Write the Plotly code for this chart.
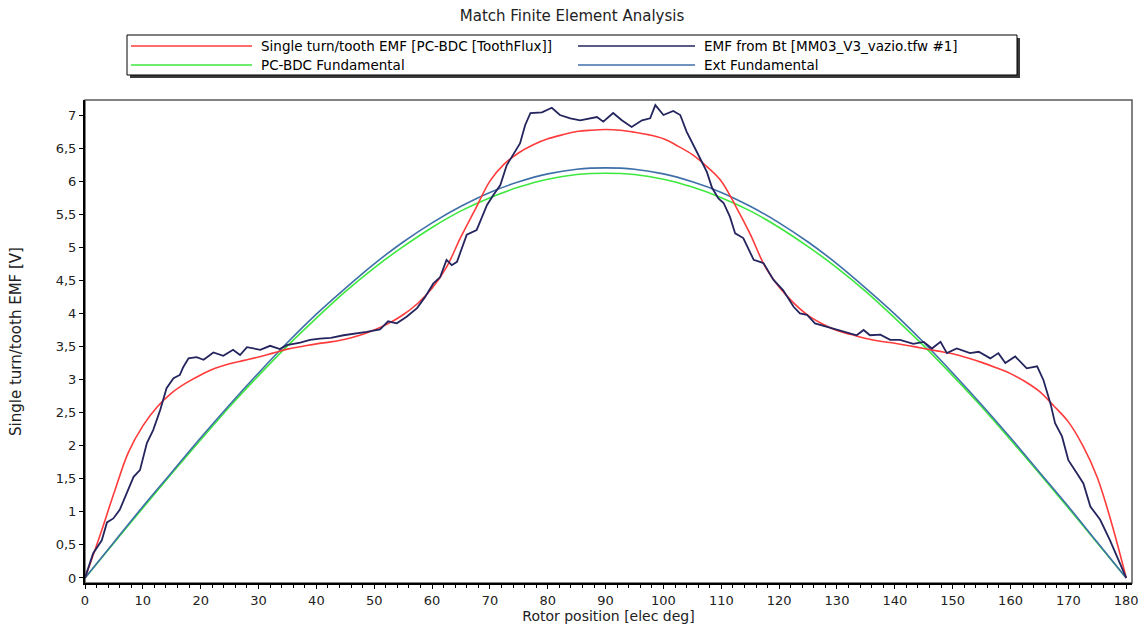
import plotly.graph_objects as go

# ---- data -------------------------------------------------------------
# Single turn/tooth EMF [PC-BDC [ToothFlux]], sampled every 2.5 elec deg
red_deg = [i * 2.5 for i in range(73)]
red_val = [0.00, 0.62, 1.28, 1.90, 2.30, 2.59, 2.80, 2.95, 3.07, 3.17,
           3.24, 3.29, 3.34, 3.40, 3.46, 3.50, 3.54, 3.57, 3.61, 3.67,
           3.75, 3.85, 3.98, 4.15, 4.38, 4.70, 5.16, 5.58, 6.00, 6.26,
           6.43, 6.55, 6.64, 6.70, 6.75, 6.77, 6.78,
           6.77, 6.74, 6.70, 6.64, 6.53, 6.40, 6.22, 6.00, 5.62, 5.20,
           4.72, 4.40, 4.16, 3.97, 3.84, 3.74, 3.68, 3.62, 3.58, 3.55,
           3.51, 3.47, 3.43, 3.39, 3.33, 3.26, 3.18, 3.09, 2.97, 2.82,
           2.60, 2.36, 2.00, 1.52, 0.82, 0.00]

# EMF from Bt [MM03_V3_vazio.tfw #1]
bt_deg = [0.0, 1.4, 2.9, 3.8, 4.9, 6.0, 7.2, 8.4, 9.5, 10.7, 11.8, 13.0,
          14.1, 15.3, 16.4, 17.0, 17.9, 19.3, 20.5, 22.2, 23.9, 25.6, 26.8,
          28.0, 30.3, 32.0, 33.7, 34.9, 37.2, 38.9, 40.6, 42.5, 44.7, 46.5,
          48.7, 51.0, 52.4, 53.9, 55.6, 57.4, 58.8, 60.2, 61.4, 62.5, 63.4,
          64.3, 65.1, 66.0, 67.7, 69.5, 70.6, 71.8, 72.9, 74.1, 75.2, 76.1,
          77.0, 79.0, 80.7, 82.1, 83.9, 85.6, 87.0, 88.5, 89.6, 91.3, 92.8,
          94.5, 96.3, 97.7, 98.6, 100.0, 101.7, 102.9, 104.0, 105.2, 106.3,
          107.5, 108.4, 109.5, 110.4, 111.5, 112.4, 113.8, 115.6, 117.3,
          119.0, 120.7, 122.5, 123.6, 124.8, 126.2, 128.2, 131.1, 133.4,
          134.6, 135.7, 137.5, 139.2, 140.9, 143.2, 145.0, 146.4, 147.9,
          149.0, 150.7, 153.0, 154.5, 156.5, 157.9, 159.1, 160.8, 162.8,
          164.6, 165.7, 166.9, 167.7, 168.9, 170.0, 171.5, 172.6, 173.8,
          175.5, 177.2, 178.7, 180.0]
bt_val = [0.00, 0.37, 0.57, 0.84, 0.90, 1.03, 1.28, 1.53, 1.63, 2.04, 2.24,
          2.54, 2.87, 3.02, 3.07, 3.19, 3.32, 3.34, 3.30, 3.41, 3.36, 3.45,
          3.37, 3.49, 3.45, 3.51, 3.46, 3.52, 3.56, 3.60, 3.62, 3.63, 3.67,
          3.69, 3.72, 3.76, 3.88, 3.85, 3.95, 4.08, 4.25, 4.45, 4.55, 4.81,
          4.73, 4.78, 4.96, 5.19, 5.26, 5.64, 5.79, 5.94, 6.24, 6.42, 6.57,
          6.85, 7.03, 7.04, 7.11, 7.00, 6.95, 6.92, 6.94, 6.97, 6.90, 7.03,
          6.92, 6.82, 6.92, 6.95, 7.15, 7.00, 7.06, 7.00, 6.75, 6.55, 6.35,
          6.14, 5.90, 5.74, 5.67, 5.46, 5.21, 5.14, 4.81, 4.76, 4.51, 4.35,
          4.10, 4.00, 3.98, 3.85, 3.80, 3.72, 3.67, 3.75, 3.67, 3.68, 3.60,
          3.60, 3.54, 3.57, 3.47, 3.57, 3.40, 3.47, 3.40, 3.42, 3.32, 3.40,
          3.25, 3.35, 3.17, 3.20, 2.99, 2.64, 2.34, 2.14, 1.78, 1.58, 1.43,
          1.08, 0.88, 0.57, 0.27, 0.00]

# Fundamentals, every 5 elec deg
fund_deg = [i * 5 for i in range(37)]
pcbdc_fund = [0.00, 0.53, 1.06, 1.58, 2.09, 2.59, 3.06, 3.51, 3.93, 4.33,
              4.69, 5.01, 5.30, 5.55, 5.75, 5.91, 6.03, 6.10, 6.12, 6.10,
              6.03, 5.91, 5.75, 5.55, 5.30, 5.01, 4.69, 4.33, 3.93, 3.51,
              3.06, 2.59, 2.09, 1.58, 1.06, 0.53, 0.00]
ext_fund = [0.00, 0.54, 1.08, 1.60, 2.12, 2.62, 3.10, 3.56, 3.99, 4.38,
            4.75, 5.08, 5.37, 5.62, 5.83, 5.99, 6.11, 6.18, 6.20, 6.18,
            6.11, 5.99, 5.83, 5.62, 5.37, 5.08, 4.75, 4.38, 3.99, 3.56,
            3.10, 2.62, 2.12, 1.60, 1.08, 0.54, 0.00]

x_ticks = list(range(0, 181, 10))

names = ["Single turn/tooth EMF [PC-BDC [ToothFlux]]",
         "EMF from Bt [MM03_V3_vazio.tfw #1]",
         "PC-BDC Fundamental",
         "Ext Fundamental"]
colors = ["#ff3b3b", "#24245e", "#3ee83e", "#3f6fa8"]

FONT = "DejaVu Sans"
TXT = "#222222"

# ---- figure -----------------------------------------------------------
fig = go.Figure()
fig.add_trace(go.Scatter(x=fund_deg, y=pcbdc_fund, mode="lines", name=names[2],
                         line=dict(color=colors[2], width=1.6, shape="spline"),
                         showlegend=False))
fig.add_trace(go.Scatter(x=fund_deg, y=ext_fund, mode="lines", name=names[3],
                         line=dict(color=colors[3], width=1.6, shape="spline"),
                         showlegend=False))
fig.add_trace(go.Scatter(x=red_deg, y=red_val, mode="lines", name=names[0],
                         line=dict(color=colors[0], width=1.6, shape="spline"),
                         showlegend=False))
fig.add_trace(go.Scatter(x=bt_deg, y=bt_val, mode="lines", name=names[1],
                         line=dict(color=colors[1], width=1.8),
                         showlegend=False))

# plot area in pixels
W, H = 1144, 632
L, R, T, B = 85, 1132, 100, 583


def px(x):
    return (x - L) / (R - L)


def py(y):
    return (B - y) / (B - T)


shapes = [
    # gray frame on top/right
    dict(type="rect", xref="paper", yref="paper", x0=0, x1=1, y0=0, y1=1,
         line=dict(color="#5a5a5a", width=1.5), layer="below"),
    # legend shadow and box
    dict(type="rect", xref="paper", yref="paper",
         x0=px(130), x1=px(1020), y0=py(78), y1=py(38),
         fillcolor="#3a3a3a", line=dict(width=0)),
    dict(type="rect", xref="paper", yref="paper",
         x0=px(127), x1=px(1017), y0=py(75), y1=py(35),
         fillcolor="white", line=dict(color="black", width=1)),
]
annotations = []
legend_pos = [(131, 252, 259, 46), (578, 695, 702, 46),
              (131, 252, 259, 65), (578, 695, 702, 65)]
for (lx0, lx1, tx, ly), nm, c in zip(legend_pos, names, colors):
    shapes.append(dict(type="line", xref="paper", yref="paper",
                       x0=px(lx0), x1=px(lx1), y0=py(ly), y1=py(ly),
                       line=dict(color=c, width=1.6)))
    annotations.append(dict(text=nm, xref="paper", yref="paper",
                            x=px(tx), y=py(ly), xanchor="left",
                            yanchor="middle", showarrow=False,
                            font=dict(family=FONT, size=13.5, color="black")))

fig.update_layout(
    width=W, height=H,
    margin=dict(l=L, r=W - R, t=T, b=H - B, autoexpand=False),
    paper_bgcolor="white", plot_bgcolor="white",
    separators=",.",
    font=dict(family=FONT, size=13, color=TXT),
    title=dict(text="Match Finite Element Analysis", x=0.5, xref="container",
               xanchor="center", y=1 - 16 / H, yanchor="middle",
               font=dict(family=FONT, size=15, color=TXT)),
    shapes=shapes,
    annotations=annotations,
    showlegend=False,
)
fig.update_xaxes(
    range=[0, 181], tickvals=x_ticks, ticks="outside", ticklen=4,
    tickcolor="black", tickwidth=1, showgrid=False, zeroline=False,
    showline=True, linecolor="black", linewidth=2, automargin=False,
    minor=dict(dtick=2, tick0=0, ticks="outside", ticklen=3,
               tickcolor="black", showgrid=False),
    title=dict(text="Rotor position [elec deg]", standoff=2,
               font=dict(family=FONT, size=14, color=TXT)),
    tickfont=dict(family=FONT, size=13, color=TXT),
)
fig.update_yaxes(
    range=[-0.076, 7.227], dtick=0.5, tick0=0, ticks="outside", ticklen=4,
    tickcolor="black", tickwidth=1, showgrid=False, zeroline=False,
    showline=True, linecolor="black", linewidth=2, automargin=False,
    title=dict(text="Single turn/tooth EMF [V]", standoff=30,
               font=dict(family=FONT, size=15, color=TXT)),
    tickfont=dict(family=FONT, size=13, color=TXT),
)

fig.write_html("out.html")
